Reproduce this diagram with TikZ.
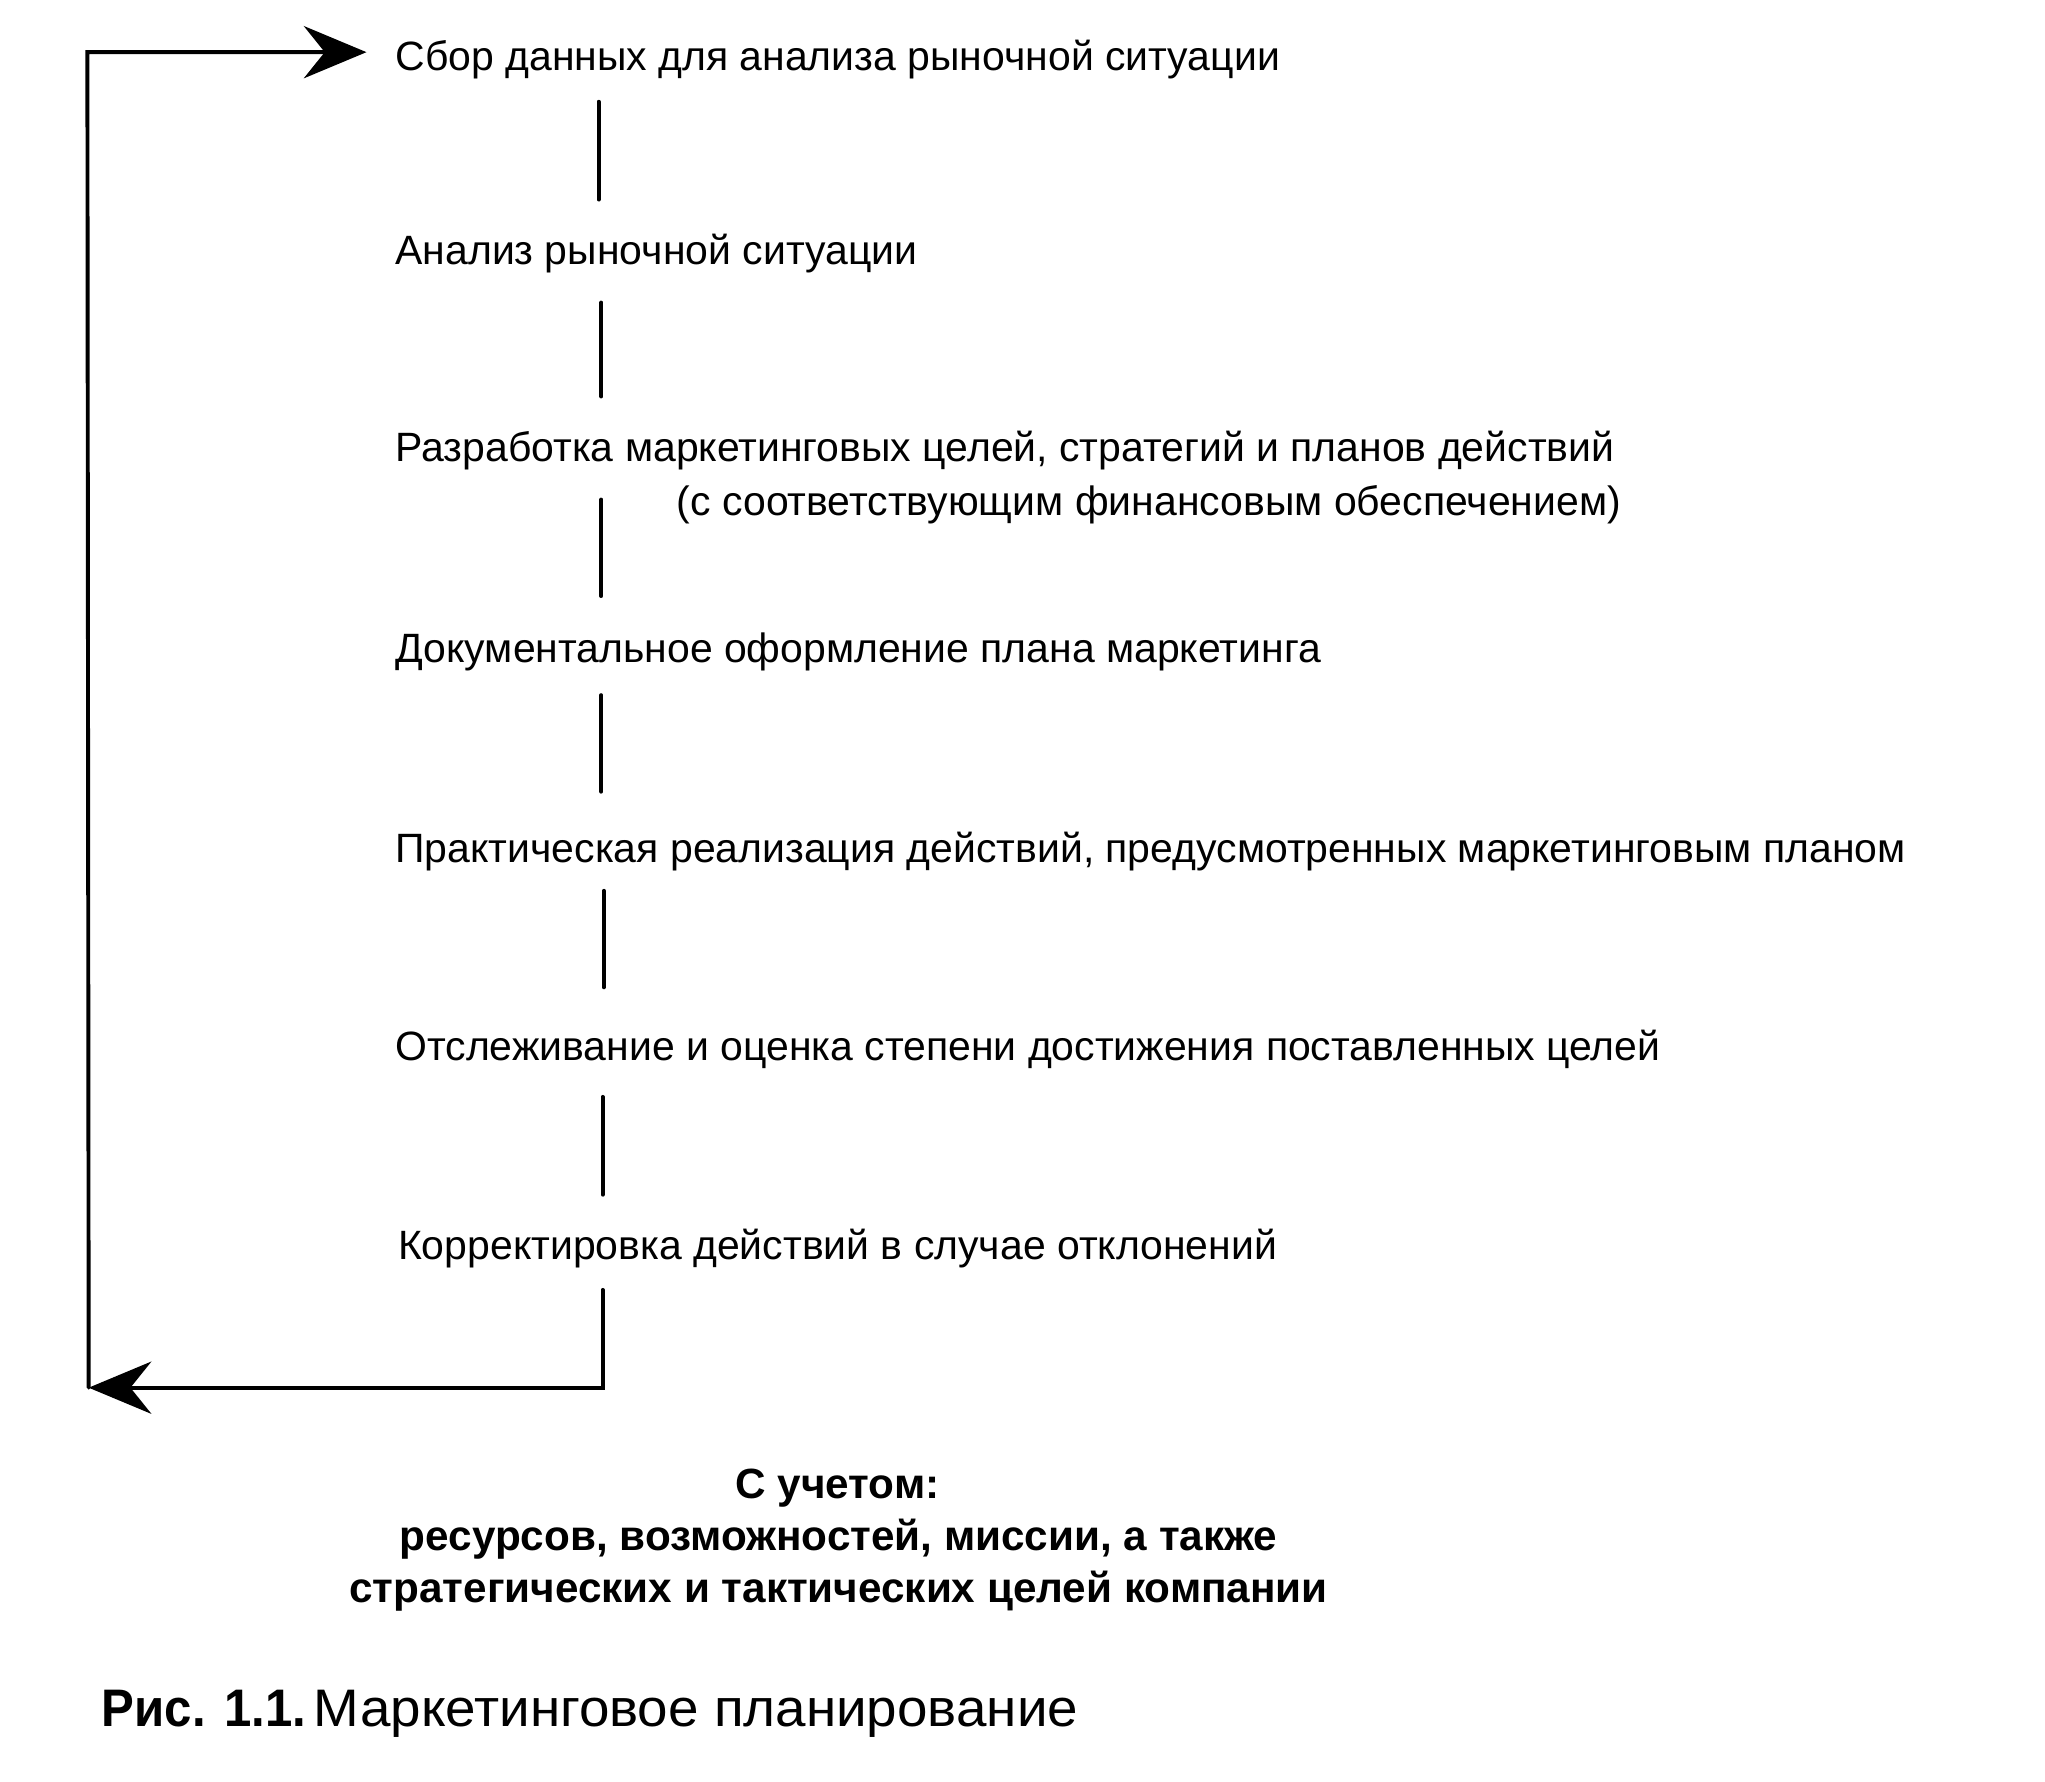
\documentclass[tikz,border=0pt]{standalone}
\usepackage{fontspec}
\setmainfont{Liberation Sans}
\newfontfamily\stepfont{Liberation Sans}
\newfontfamily\notefont{Liberation Sans Bold}
\newfontfamily\capbold[FakeStretch=0.93]{Liberation Sans Bold}
\newfontfamily\capreg[FakeStretch=1.037]{Liberation Sans}
\usetikzlibrary{arrows.meta}
\tikzset{
  stepbox/.style={anchor=base west, inner sep=0pt, font=\stepfont\fontsize{31.4}{38}\selectfont},
  notebox/.style={anchor=base, inner sep=0pt, font=\notefont\fontsize{32.4}{38}\selectfont},
  capbox/.style={anchor=base west, inner sep=0pt, font=\fontsize{40.5}{46}\selectfont},
  flow/.style={line width=3pt, line cap=round, line join=miter},
  tip/.style={-{Stealth[length=48pt,width=40pt,inset=16pt]}}
}
\begin{document}
\begin{tikzpicture}[x=1pt,y=-1pt]
\useasboundingbox (0,0) rectangle (1568,1366);
% steps
\node[stepbox] (n1) at (303,54) {Сбор данных для анализа рыночной ситуации};
\node[stepbox] (n2) at (303,203) {Анализ рыночной ситуации};
\node[stepbox] (n3) at (303,354) {Разработка маркетинговых целей, стратегий и планов действий};
\node[stepbox, anchor=base east] (n3b) at (1243,395) {(с соответствующим финансовым обеспечением)};
\node[stepbox] (n4) at (303,508) {Документальное оформление плана маркетинга};
\node[stepbox] (n5) at (303,661) {Практическая реализация действий, предусмотренных маркетинговым планом};
\node[stepbox] (n6) at (303,813) {Отслеживание и оценка степени достижения поставленных целей};
\node[stepbox] (n7) at (305,966) {Корректировка действий в случае отклонений};
% connector ends
\coordinate (a1) at (459,78);  \coordinate (b1) at (459,153);
\coordinate (a2) at (461,232); \coordinate (b2) at (461,304);
\coordinate (a3) at (461,383); \coordinate (b3) at (461,457);
\coordinate (a4) at (461,533); \coordinate (b4) at (461,607);
\coordinate (a5) at (463,683); \coordinate (b5) at (463,757);
\coordinate (a6) at (462,841); \coordinate (b6) at (462,916);
\coordinate (a7) at (462,989); \coordinate (b7) at (462,1064);
\coordinate (bl) at (68,1064);
\coordinate (tl) at (67,40);
\coordinate (tr) at (281,40);
\draw[flow] (a1) -- (b1);
\draw[flow] (a2) -- (b2);
\draw[flow] (a3) -- (b3);
\draw[flow] (a4) -- (b4);
\draw[flow] (a5) -- (b5);
\draw[flow] (a6) -- (b6);
\draw[flow, tip] (a7) -- (b7) -- (bl);
\draw[flow, tip] (bl) -- (tl) -- (tr);
% note
\node[notebox] (m1) at (642,1149) {С учетом:};
\node[notebox] (m2) at (643,1189) {ресурсов, возможностей, миссии, а также};
\node[notebox] (m3) at (643,1229) {стратегических и тактических целей компании};
% caption
\node[capbox] (cap) at (78,1324) {{\capbold Рис. 1.1.}\kern 6pt{\capreg Маркетинговое планирование}};
\end{tikzpicture}
\end{document}
